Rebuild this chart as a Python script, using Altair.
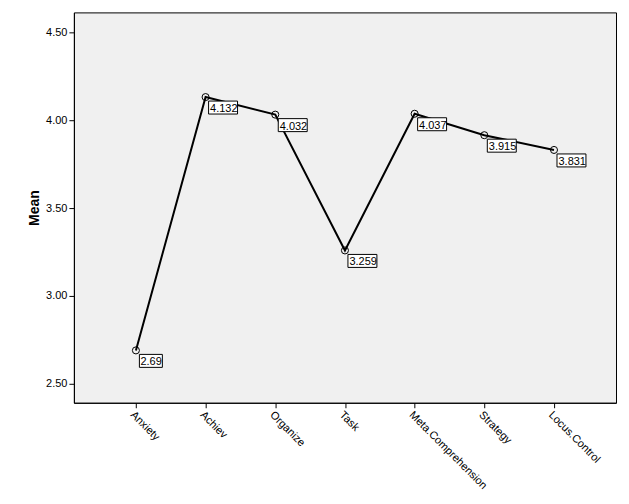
import altair as alt
import pandas as pd

categories = ["Anxiety", "Achiev", "Organize", "Task", "Meta.Comprehension", "Strategy", "Locus.Control"]
means = [2.69, 4.132, 4.032, 3.259, 4.037, 3.915, 3.831]
labels = ["2.69", "4.132", "4.032", "3.259", "4.037", "3.915", "3.831"]
y_ticks = [2.5, 3.0, 3.5, 4.0, 4.5]

df = pd.DataFrame({"cat": categories, "value": means, "label": labels})

FONT = "Liberation Sans"

x_enc = alt.X(
    "cat:N",
    sort=categories,
    scale=alt.Scale(type="point", padding=0.89),
    axis=alt.Axis(
        title=None,
        labelAngle=45,
        labelAlign="left",
        labelBaseline="top",
        labelFontSize=11,
        labelFont=FONT,
        labelColor="black",
        labelPadding=1,
        tickSize=5,
        tickColor="black",
        domainColor="black",
        labelOverlap=False,
    ),
)
y_enc = alt.Y(
    "value:Q",
    scale=alt.Scale(domain=[2.392, 4.614], nice=False, zero=False),
    axis=alt.Axis(
        title="Mean",
        values=y_ticks,
        format=".2f",
        grid=False,
        labelFontSize=11,
        labelFont=FONT,
        labelColor="black",
        labelPadding=2,
        tickSize=5,
        tickColor="black",
        domainColor="black",
        titleFont=FONT,
        titleFontSize=14,
        titleFontWeight="bold",
        titleColor="black",
        titlePadding=4,
    ),
)

base = alt.Chart(df).encode(x=x_enc, y=y_enc)

line = base.mark_line(color="black", strokeWidth=2)
pts = base.mark_point(shape="circle", filled=False, size=50, color="black", strokeWidth=1, opacity=1)

long_lbl = base.transform_filter("length(datum.label) >= 5").mark_rect(
    width=29, height=13, xOffset=17.5, yOffset=10.5, fill="white", stroke="black", strokeWidth=1
)
short_lbl = base.transform_filter("length(datum.label) < 5").mark_rect(
    width=23, height=13, xOffset=15, yOffset=10.5, fill="white", stroke="black", strokeWidth=1
)
txt = base.mark_text(
    align="left", baseline="alphabetic", dx=4.5, dy=15, fontSize=11, font=FONT, color="black"
).encode(text="label:N")

chart = (
    alt.layer(line, pts, long_lbl, short_lbl, txt)
    .properties(
        width=543,
        height=391,
        background="white",
        padding={"left": 19, "top": 4, "right": 5, "bottom": 5},
    )
    .configure_view(fill="#F0F0F0", stroke="black", strokeWidth=1)
)

chart.save("out.html", embed_options={"renderer": "svg", "actions": False})
